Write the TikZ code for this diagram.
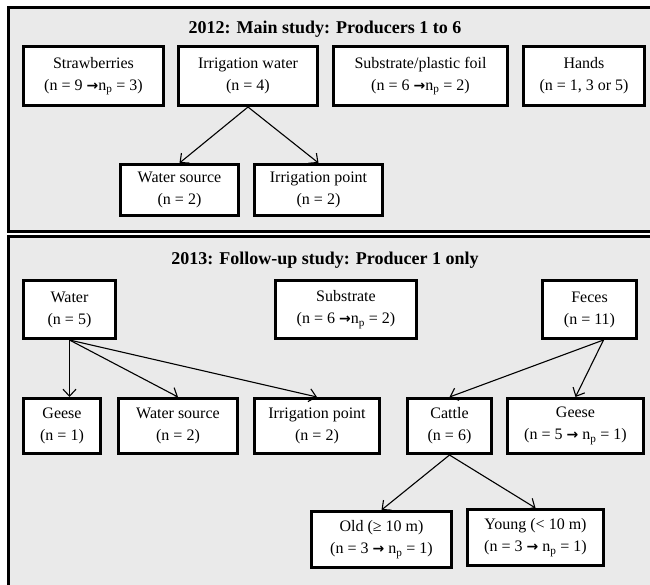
\documentclass[tikz,border=0pt]{standalone}
\usepackage{fontspec}
\setmainfont{Liberation Serif}
\newfontfamily\arrowfont{DejaVu Sans}
\newcommand{\thickarr}{{\arrowfont\bfseries\fontsize{14}{14}\selectfont →}}
\usetikzlibrary{arrows.meta,calc}
\definecolor{panelgray}{RGB}{234,234,234}
\tikzset{
  box/.style={draw=black, line width=3pt, fill=white, align=center, inner sep=0pt,
    font=\fontsize{16}{22}\selectfont},
  panel/.style={draw=black, line width=3pt, fill=panelgray},
  ptitle/.style={font=\fontsize{18}{20}\selectfont\bfseries},
  arr/.style={line width=1.1pt, -{Straight Barb[length=7pt,width=13pt]}},
}
\begin{document}
\begin{tikzpicture}[x=1pt,y=-1pt]
\useasboundingbox (0,0) rectangle (650,584);
\clip (0,0) rectangle (650,584);
\fill[white] (0,0) rectangle (650,584);
\draw[panel] (8.5,7.5) rectangle (665,231.5);
\draw[panel] (8.5,236.5) rectangle (665,600);

\node[ptitle] (t1) at (325,29) {2012: Main study: Producers 1 to 6};
\node[ptitle] (t2) at (325,260) {2013: Follow-up study: Producer 1 only};

% panel 1
\node[box, minimum width=140pt, minimum height=59pt] (straw) at (93.5,76) {Strawberries\\(n = 9 \thickarr n\textsubscript{p} = 3)};
\node[box, minimum width=139pt, minimum height=59pt] (irrw) at (248,76) {Irrigation water\\(n = 4)};
\node[box, minimum width=174pt, minimum height=59pt] (subf) at (420.5,76) {Substrate/plastic foil\\(n = 6 \thickarr n\textsubscript{p} = 2)};
\node[box, minimum width=121pt, minimum height=59pt] (hands) at (584,76) {Hands\\(n = 1, 3 or 5)};
\node[box, minimum width=118pt, minimum height=51pt] (wsa) at (179.5,190) {Water source\\(n = 2)};
\node[box, minimum width=128pt, minimum height=51pt] (ipa) at (318.5,190) {Irrigation point\\(n = 2)};
\draw[arr] (irrw.south) -- (wsa.north);
\draw[arr] (irrw.south) -- (ipa.north);

% panel 2
\node[box, minimum width=92pt, minimum height=58pt] (water) at (69.5,309.5) {Water\\(n = 5)};
\node[box, minimum width=141pt, minimum height=58pt] (substr) at (346,309.5) {Substrate\\(n = 6 \thickarr n\textsubscript{p} = 2)};
\node[box, minimum width=94pt, minimum height=58pt] (feces) at (589.5,309.5) {Feces\\(n = 11)};

\node[box, minimum width=77pt, minimum height=55pt] (geesea) at (62,426) {Geese\\(n = 1)};
\node[box, minimum width=119pt, minimum height=55pt] (wsb) at (178,426) {Water source\\(n = 2)};
\node[box, minimum width=125pt, minimum height=55pt] (ipb) at (317,426) {Irrigation point\\(n = 2)};
\node[box, minimum width=84pt, minimum height=55pt] (cattle) at (449.5,426) {Cattle\\(n = 6)};
\node[box, minimum width=136pt, minimum height=55pt] (geeseb) at (575.5,426) {Geese\\(n = 5 \thickarr{} n\textsubscript{p} = 1)};

\node[box, minimum width=140pt, minimum height=56pt] (old) at (381.5,539.5) {Old (≥ 10 m)\\(n = 3 \thickarr{} n\textsubscript{p} = 1)};
\node[box, minimum width=136pt, minimum height=56pt] (young) at (535.5,537.5) {Young (< 10 m)\\(n = 3 \thickarr{} n\textsubscript{p} = 1)};

\coordinate (fo) at ($(feces.south)+(14,0)$);
\draw[arr] (water.south) -- (water.south |- geesea.north);
\draw[arr] (water.south) -- (wsb.north);
\draw[arr] (water.south) -- (ipb.north);
\draw[arr] (fo) -- (cattle.north);
\draw[arr] (fo) -- (geeseb.north);
\draw[arr] (cattle.south) -- (old.north);
\draw[arr] (cattle.south) -- (young.north);
\end{tikzpicture}
\end{document}
